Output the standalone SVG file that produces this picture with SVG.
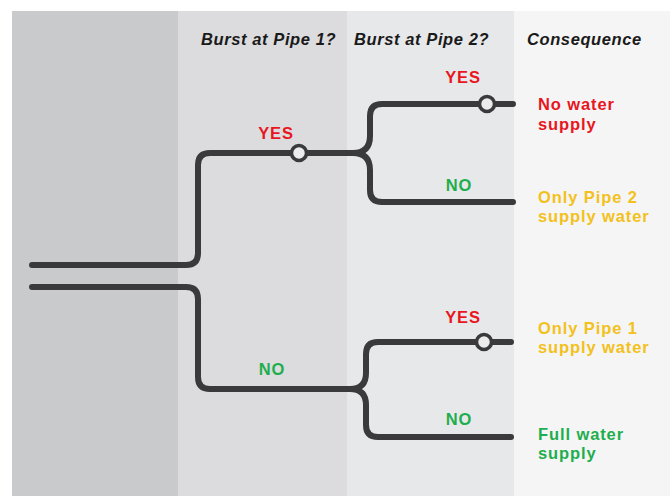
<svg xmlns="http://www.w3.org/2000/svg" width="670" height="496" viewBox="0 0 670 496">
  <style>
    .hdr { font-family: "Liberation Sans", Arial, sans-serif; font-weight: bold; font-style: italic; font-size: 16.5px; letter-spacing: 0.6px; fill: #1a1a1a; }
    .lbl { font-family: "Liberation Sans", Arial, sans-serif; font-weight: bold; font-size: 16.5px; letter-spacing: 0.9px; }
    .red { fill: #e8161e; }
    .green { fill: #1fae4e; }
    .yellow { fill: #f3c11c; }
    .pipe { fill: none; stroke: #3a3a3c; stroke-width: 6; stroke-linecap: round; stroke-linejoin: round; }
    .valve { fill: #ececec; stroke: #3a3a3c; stroke-width: 3.5; }
  </style>
  <rect x="0" y="0" width="670" height="496" fill="#ffffff"/>
  <g id="columns">
    <rect x="12" y="11" width="166" height="485" fill="#c9cacc"/>
    <rect x="178" y="11" width="169" height="485" fill="#dcdcde"/>
    <rect x="347" y="11" width="167" height="485" fill="#e7e8ea"/>
    <rect x="514" y="11" width="156" height="485" fill="#f5f5f5"/>
  </g>
  <g id="headers">
    <text class="hdr" x="201" y="45">Burst at Pipe 1?</text>
    <text class="hdr" x="354" y="45">Burst at Pipe 2?</text>
    <text class="hdr" x="527" y="45">Consequence</text>
  </g>
  <g id="connectors">
    <path class="pipe" d="M32,265 H186 Q198,265 198,253 V165 Q198,153 210,153 H353"/>
    <path class="pipe" d="M353,153 Q370,153 370,136 V116 Q370,104 382,104 H513"/>
    <path class="pipe" d="M353,153 Q370,153 370,170 V190 Q370,202 382,202 H513"/>
    <path class="pipe" d="M32,287 H186 Q198,287 198,299 V377 Q198,389 210,389 H350"/>
    <path class="pipe" d="M350,389 Q366,389 366,373 V354 Q366,342 378,342 H511"/>
    <path class="pipe" d="M350,389 Q366,389 366,405 V425 Q366,437 378,437 H511"/>
  </g>
  <g id="valve-pipe1">
    <circle class="valve" cx="299" cy="153" r="7.5"/>
    <text class="lbl red" x="276" y="139" text-anchor="middle">YES</text>
  </g>
  <g id="no-pipe1">
    <text class="lbl green" x="272" y="375" text-anchor="middle">NO</text>
  </g>
  <g id="valve-pipe2-a">
    <circle class="valve" cx="487" cy="104" r="7.5"/>
    <text class="lbl red" x="463" y="83" text-anchor="middle">YES</text>
  </g>
  <g id="no-pipe2-a">
    <text class="lbl green" x="459" y="191" text-anchor="middle">NO</text>
  </g>
  <g id="valve-pipe2-b">
    <circle class="valve" cx="484" cy="342" r="7.5"/>
    <text class="lbl red" x="463" y="323" text-anchor="middle">YES</text>
  </g>
  <g id="no-pipe2-b">
    <text class="lbl green" x="459" y="425" text-anchor="middle">NO</text>
  </g>
  <g id="consequence-1">
    <text class="lbl red" x="538" y="110">No water</text>
    <text class="lbl red" x="538" y="130">supply</text>
  </g>
  <g id="consequence-2">
    <text class="lbl yellow" x="538" y="203">Only Pipe 2</text>
    <text class="lbl yellow" x="538" y="222">supply water</text>
  </g>
  <g id="consequence-3">
    <text class="lbl yellow" x="538" y="334">Only Pipe 1</text>
    <text class="lbl yellow" x="538" y="353">supply water</text>
  </g>
  <g id="consequence-4">
    <text class="lbl green" x="538" y="440">Full water</text>
    <text class="lbl green" x="538" y="459">supply</text>
  </g>
</svg>
